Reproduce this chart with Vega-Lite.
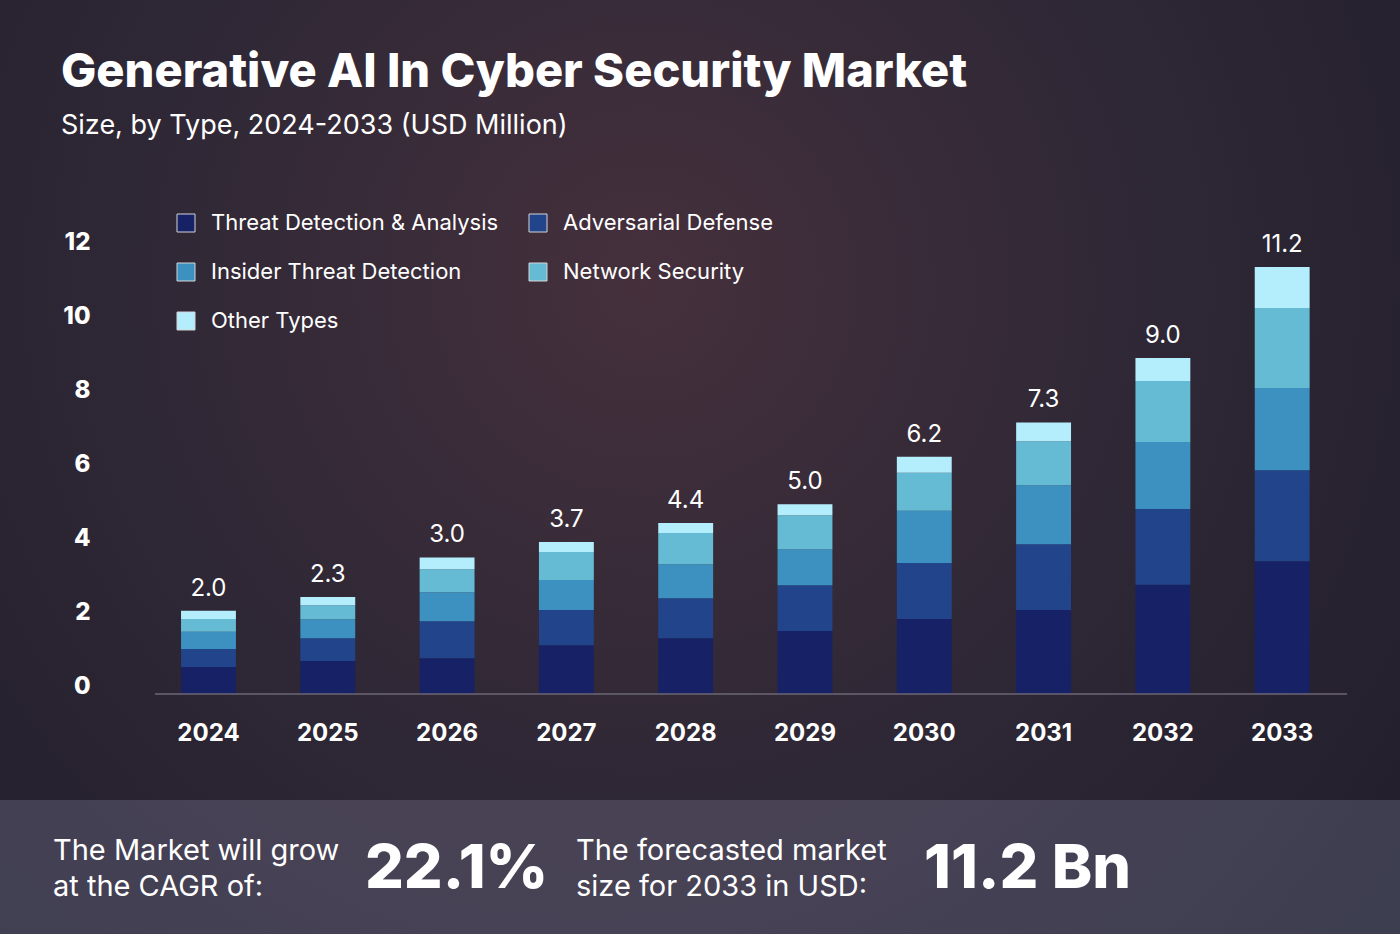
{
  "$schema": "https://vega.github.io/schema/vega-lite/v6.json",
  "width": 1400,
  "height": 934,
  "autosize": {"type": "none"},
  "padding": 0,
  "background": "#46404f",
  "title": {
    "text": "Generative AI In Cyber Security Market",
    "subtitle": "Size, by Type, 2024-2033 (USD Million)",
    "anchor": "start",
    "frame": "group",
    "orient": "top",
    "offset": -149,
    "dx": 61,
    "font": "Inter",
    "fontSize": 47,
    "fontWeight": 800,
    "color": "#ffffff",
    "subtitleFont": "Inter",
    "subtitleFontSize": 27,
    "subtitleColor": "#ffffff",
    "subtitlePadding": 16
  },
  "config": {
    "view": {"stroke": null},
    "legend": {
      "orient": "none",
      "legendX": 175,
      "legendY": 212,
      "columns": 2,
      "direction": "horizontal",
      "padding": 0,
      "symbolType": "square",
      "symbolSize": 324,
      "symbolStrokeColor": "#d4d4d8",
      "symbolStrokeWidth": 1,
      "symbolOpacity": 1,
      "labelFont": "Inter",
      "labelFontSize": 22,
      "labelColor": "#ffffff",
      "labelOffset": 14,
      "labelLimit": 600,
      "columnPadding": 28,
      "rowPadding": 27,
      "title": null
    }
  },
  "datasets": {
    "segments": [
      {"year": "2024", "type": "Threat Detection & Analysis", "value": 0.73},
      {"year": "2024", "type": "Adversarial Defense", "value": 0.49},
      {"year": "2024", "type": "Insider Threat Detection", "value": 0.46},
      {"year": "2024", "type": "Network Security", "value": 0.35},
      {"year": "2024", "type": "Other Types", "value": 0.22},
      {"year": "2025", "type": "Threat Detection & Analysis", "value": 0.89},
      {"year": "2025", "type": "Adversarial Defense", "value": 0.62},
      {"year": "2025", "type": "Insider Threat Detection", "value": 0.51},
      {"year": "2025", "type": "Network Security", "value": 0.38},
      {"year": "2025", "type": "Other Types", "value": 0.22},
      {"year": "2026", "type": "Threat Detection & Analysis", "value": 0.97},
      {"year": "2026", "type": "Adversarial Defense", "value": 1.0},
      {"year": "2026", "type": "Insider Threat Detection", "value": 0.78},
      {"year": "2026", "type": "Network Security", "value": 0.62},
      {"year": "2026", "type": "Other Types", "value": 0.32},
      {"year": "2027", "type": "Threat Detection & Analysis", "value": 1.32},
      {"year": "2027", "type": "Adversarial Defense", "value": 0.95},
      {"year": "2027", "type": "Insider Threat Detection", "value": 0.81},
      {"year": "2027", "type": "Network Security", "value": 0.76},
      {"year": "2027", "type": "Other Types", "value": 0.27},
      {"year": "2028", "type": "Threat Detection & Analysis", "value": 1.51},
      {"year": "2028", "type": "Adversarial Defense", "value": 1.08},
      {"year": "2028", "type": "Insider Threat Detection", "value": 0.92},
      {"year": "2028", "type": "Network Security", "value": 0.84},
      {"year": "2028", "type": "Other Types", "value": 0.27},
      {"year": "2029", "type": "Threat Detection & Analysis", "value": 1.70},
      {"year": "2029", "type": "Adversarial Defense", "value": 1.24},
      {"year": "2029", "type": "Insider Threat Detection", "value": 0.97},
      {"year": "2029", "type": "Network Security", "value": 0.92},
      {"year": "2029", "type": "Other Types", "value": 0.30},
      {"year": "2030", "type": "Threat Detection & Analysis", "value": 2.03},
      {"year": "2030", "type": "Adversarial Defense", "value": 1.51},
      {"year": "2030", "type": "Insider Threat Detection", "value": 1.41},
      {"year": "2030", "type": "Network Security", "value": 1.03},
      {"year": "2030", "type": "Other Types", "value": 0.43},
      {"year": "2031", "type": "Threat Detection & Analysis", "value": 2.27},
      {"year": "2031", "type": "Adversarial Defense", "value": 1.78},
      {"year": "2031", "type": "Insider Threat Detection", "value": 1.59},
      {"year": "2031", "type": "Network Security", "value": 1.19},
      {"year": "2031", "type": "Other Types", "value": 0.51},
      {"year": "2032", "type": "Threat Detection & Analysis", "value": 2.95},
      {"year": "2032", "type": "Adversarial Defense", "value": 2.05},
      {"year": "2032", "type": "Insider Threat Detection", "value": 1.81},
      {"year": "2032", "type": "Network Security", "value": 1.65},
      {"year": "2032", "type": "Other Types", "value": 0.62},
      {"year": "2033", "type": "Threat Detection & Analysis", "value": 3.59},
      {"year": "2033", "type": "Adversarial Defense", "value": 2.46},
      {"year": "2033", "type": "Insider Threat Detection", "value": 2.22},
      {"year": "2033", "type": "Network Security", "value": 2.16},
      {"year": "2033", "type": "Other Types", "value": 1.11}
    ],
    "types": [
      {"type": "Threat Detection & Analysis", "rank": 1},
      {"type": "Adversarial Defense", "rank": 2},
      {"type": "Insider Threat Detection", "rank": 3},
      {"type": "Network Security", "rank": 4},
      {"type": "Other Types", "rank": 5}
    ],
    "totals": [
      {"year": "2024", "label": "2.0"},
      {"year": "2025", "label": "2.3"},
      {"year": "2026", "label": "3.0"},
      {"year": "2027", "label": "3.7"},
      {"year": "2028", "label": "4.4"},
      {"year": "2029", "label": "5.0"},
      {"year": "2030", "label": "6.2"},
      {"year": "2031", "label": "7.3"},
      {"year": "2032", "label": "9.0"},
      {"year": "2033", "label": "11.2"}
    ],
    "baseline": [
      {"from": "2024", "to": "2033"}
    ],
    "kpis": [
      {"kpi": "CAGR", "caption": "The Market will grow\nat the CAGR of:", "figure": "22.1%"},
      {"kpi": "Forecast 2033", "caption": "The forecasted market\nsize for 2033 in USD:", "figure": "11.2 Bn"}
    ]
  },
  "layer": [
    {
      "data": {"values": [{}]},
      "mark": {
        "type": "rect",
        "fill": {
          "gradient": "radial",
          "x1": 0.46, "y1": 0.42, "x2": 0.46, "y2": 0.42,
          "r1": 0, "r2": 0.75,
          "stops": [
            {"offset": 0, "color": "#45303c"},
            {"offset": 0.45, "color": "#302836"},
            {"offset": 1, "color": "#1f1d2a"}
          ]
        }
      },
      "encoding": {
        "y": {"datum": 19, "type": "quantitative"},
        "y2": {"datum": -2.865}
      }
    },
    {
      "data": {"values": [{}]},
      "mark": {
        "type": "rect",
        "fill": {
          "gradient": "radial",
          "x1": 0.42, "y1": 0.1, "x2": 0.42, "y2": 0.1,
          "r1": 0, "r2": 0.7,
          "stops": [
            {"offset": 0, "color": "#55475a"},
            {"offset": 1, "color": "#3e3e51"}
          ]
        }
      },
      "encoding": {
        "y": {"datum": -2.865, "type": "quantitative"},
        "y2": {"datum": -7}
      }
    },
    {
      "layer": [
        {
          "data": {"name": "segments"},
          "transform": [
            {"lookup": "type", "from": {"data": {"name": "types"}, "key": "type", "fields": ["rank"]}}
          ],
          "mark": {"type": "bar", "width": {"band": 0.626}},
          "encoding": {
            "x": {
              "field": "year",
              "type": "nominal",
              "scale": {"type": "band", "paddingInner": 0.265, "paddingOuter": 1, "align": 0.69},
              "axis": {
                "orient": "bottom",
                "offset": -240,
                "zindex": 1,
                "domain": false,
                "ticks": false,
                "tickSize": 0,
                "grid": false,
                "title": null,
                "labelAngle": 0,
                "labelPadding": 27,
                "labelFont": "Inter",
                "labelFontSize": 24,
                "labelFontWeight": "bold",
                "labelColor": "#ffffff"
              }
            },
            "y": {
              "field": "value",
              "type": "quantitative",
              "stack": "zero",
              "scale": {"domain": [-6.486, 18.757], "nice": false, "zero": false},
              "axis": {
                "orient": "left",
                "values": [0, 2, 4, 6, 8, 10, 12],
                "offset": -100,
                "zindex": 1,
                "domain": false,
                "ticks": false,
                "tickSize": 0,
                "grid": false,
                "title": null,
                "labelPadding": 10,
                "labelOffset": -8,
                "labelFont": "Inter",
                "labelFontSize": 24,
                "labelFontWeight": 800,
                "labelColor": "#ffffff",
                "labelOverlap": false,
                "labelFlush": false
              }
            },
            "color": {
              "field": "type",
              "type": "nominal",
              "sort": ["Threat Detection & Analysis", "Adversarial Defense", "Insider Threat Detection", "Network Security", "Other Types"],
              "scale": {
                "domain": ["Threat Detection & Analysis", "Adversarial Defense", "Insider Threat Detection", "Network Security", "Other Types"],
                "range": ["#172166", "#22448a", "#3d91c1", "#66bbd4", "#b4eefc"]
              }
            },
            "order": {"field": "rank", "type": "quantitative", "sort": "ascending"}
          }
        },
        {
          "data": {"name": "segments"},
          "transform": [
            {"aggregate": [{"op": "sum", "field": "value", "as": "top"}], "groupby": ["year"]},
            {"lookup": "year", "from": {"data": {"name": "totals"}, "key": "year", "fields": ["label"]}}
          ],
          "mark": {"type": "text", "font": "Inter", "fontSize": 24, "color": "#ffffff", "baseline": "alphabetic", "dy": -15},
          "encoding": {
            "x": {"field": "year", "type": "nominal"},
            "y": {"field": "top", "type": "quantitative"},
            "text": {"field": "label"}
          }
        },
        {
          "data": {"name": "baseline"},
          "mark": {"type": "rule", "color": "#6d6674", "strokeWidth": 1.5},
          "encoding": {
            "x": {"field": "from", "type": "nominal", "bandPosition": -0.11},
            "x2": {"field": "to", "bandPosition": 1.24},
            "y": {"datum": 0, "type": "quantitative"}
          }
        }
      ]
    },
    {
      "data": {"name": "kpis"},
      "mark": {"type": "text", "font": "Inter", "fontSize": 29, "color": "#ffffff", "align": "left", "baseline": "middle", "lineBreak": "\n", "lineHeight": 36},
      "encoding": {
        "x": {"field": "kpi", "type": "nominal", "scale": {"type": "point", "padding": 0.8384, "align": 0.0604}, "axis": null},
        "y": {"datum": -4.25, "type": "quantitative"},
        "text": {"field": "caption"}
      }
    },
    {
      "data": {"name": "kpis"},
      "mark": {"type": "text", "font": "Inter", "fontSize": 61, "fontWeight": 800, "letterSpacing": -2.5, "color": "#ffffff", "align": "left", "baseline": "middle"},
      "encoding": {
        "x": {"field": "kpi", "type": "nominal", "scale": {"type": "point", "padding": 0.752, "align": 0.434}, "axis": null},
        "y": {"datum": -4.76, "type": "quantitative"},
        "text": {"field": "figure"}
      }
    }
  ],
  "resolve": {"scale": {"x": "independent"}}
}
